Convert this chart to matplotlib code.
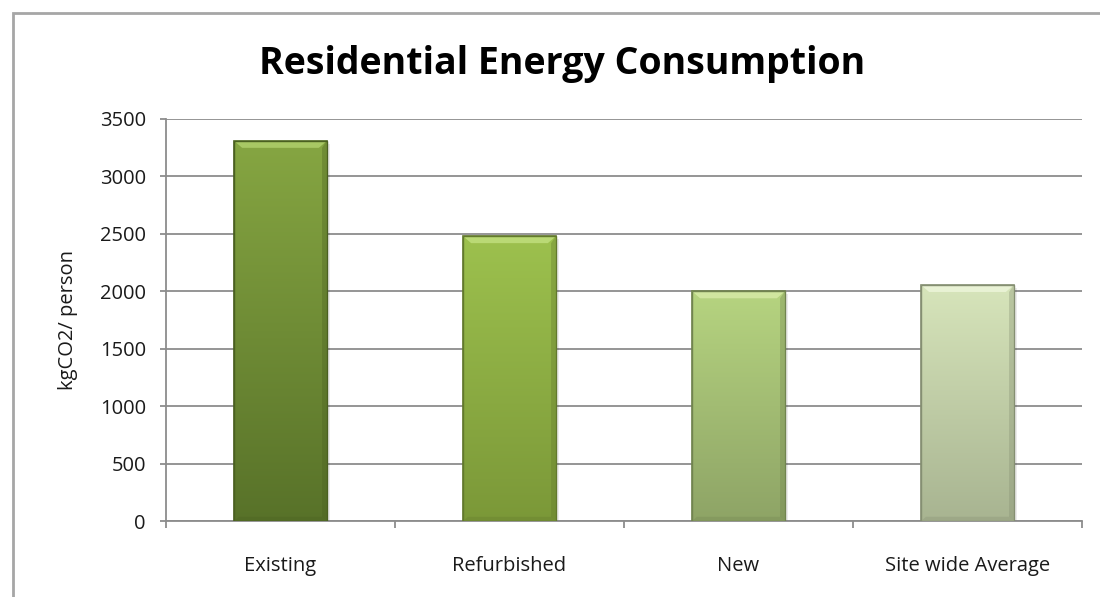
import matplotlib.pyplot as plt
import matplotlib.patches as mpatches
import numpy as np
from matplotlib.colors import LinearSegmentedColormap

plt.rcParams['font.family'] = ['Open Sans', 'DejaVu Sans']

# ---- data ----
categories = ["Existing", "Refurbished", "New", "Site wide Average"]
values = [3310, 2480, 2000, 2055]

# gradient top / bottom colours per bar, plus bevel highlight and edge
top_colors = ["#86a642", "#9dc14e", "#b6d480", "#d7e5bb"]
bottom_colors = ["#587229", "#7b9838", "#8ea466", "#a8b491"]
light_colors = ["#b2d26e", "#c2e080", "#d8eca8", "#eef6dc"]
edge_colors = ["#4a6020", "#62792c", "#71844f", "#858f72"]

GRID = "#8c8c8c"
TEXT = "#1a1a1a"

fig = plt.figure(figsize=(11, 5.97), dpi=100)
ax = fig.add_axes([0.1509, 0.1273, 0.8327, 0.6734])

# outer chart border
fig.patches.append(mpatches.Rectangle((13 / 1100, -0.05), 1.1, 1 - 13 / 597 + 0.05,
                                      transform=fig.transFigure, fill=False,
                                      edgecolor="#a6a6a6", linewidth=2))

ymax = 3500
ax.set_xlim(-0.5, len(categories) - 0.5)
ax.set_ylim(0, ymax)

# pixel -> data conversion for the bevel size
ax_w_px = 0.8327 * 1100
ax_h_px = 0.6734 * 597
px_x = len(categories) / ax_w_px
px_y = ymax / ax_h_px

bar_w = 0.405
for i, (v, ct, cb, cl, ce) in enumerate(zip(values, top_colors, bottom_colors,
                                             light_colors, edge_colors)):
    x0, x1 = i - bar_w / 2, i + bar_w / 2
    # soft shadow on the right
    ax.add_patch(mpatches.Rectangle((x1, 0), 3 * px_x, v - 3 * px_y,
                                    facecolor="#000000", alpha=0.08,
                                    linewidth=0, zorder=2))
    bar = ax.bar(i, v, width=bar_w, color=cb, edgecolor=ce, linewidth=1.2, zorder=3)[0]
    cmap = LinearSegmentedColormap.from_list("g%d" % i, [cb, ct])
    grad = np.linspace(0, 1, 256).reshape(-1, 1)
    im = ax.imshow(grad, extent=[x0, x1, 0, v], origin="lower", cmap=cmap,
                   aspect="auto", zorder=3.5, interpolation="bicubic")
    im.set_clip_path(bar)
    # bevel: light top, darker right and bottom
    dx, dy = 8 * px_x, 7 * px_y
    ax.add_patch(mpatches.Polygon([(x0, v), (x1, v), (x1 - dx, v - dy), (x0 + dx, v - dy)],
                                  closed=True, facecolor=cl, edgecolor="none",
                                  alpha=0.8, zorder=4))
    ax.add_patch(mpatches.Polygon([(x1, v), (x1, 0), (x1 - dx * 0.6, dy * 0.6),
                                   (x1 - dx * 0.6, v - dy)],
                                  closed=True, facecolor=ce, edgecolor="none",
                                  alpha=0.35, zorder=4))
    ax.add_patch(mpatches.Polygon([(x0, 0), (x1, 0), (x1 - dx * 0.6, dy * 0.6),
                                   (x0 + dx * 0.6, dy * 0.6)],
                                  closed=True, facecolor=ce, edgecolor="none",
                                  alpha=0.3, zorder=4))
    ax.add_patch(mpatches.Rectangle((x0, 0), bar_w, v, fill=False, edgecolor=ce,
                                    linewidth=1.0, zorder=4.5))

# axes styling
ax.set_yticks(np.arange(0, ymax + 1, 500))
ax.yaxis.grid(True, color=GRID, linewidth=1.3, zorder=0)
ax.set_axisbelow(True)
for s in ("top", "right"):
    ax.spines[s].set_visible(False)
for s in ("left", "bottom"):
    ax.spines[s].set_color(GRID)
    ax.spines[s].set_linewidth(1.3)

ax.set_xticks(np.arange(-0.5, len(categories), 1))
ax.set_xticklabels([])
ax.set_xticks(np.arange(len(categories)), minor=True)
ax.set_xticklabels(categories, minor=True)
ax.tick_params(axis="x", which="major", direction="out", length=5, width=1.3, color=GRID)
ax.tick_params(axis="x", which="minor", length=0, pad=25, labelsize=14.5, labelcolor=TEXT)
ax.tick_params(axis="y", direction="out", length=4.5, width=1.3, color=GRID,
               labelsize=14.5, labelcolor=TEXT, pad=10)

ax.set_ylabel("kgCO2/ person", fontsize=14.5, color=TEXT, labelpad=16)
fig.text(0.511, 0.893, "Residential Energy Consumption", ha="center", va="center",
         fontsize=27, fontweight="bold", color="#000000")

fig.savefig("out.png", dpi=100)
